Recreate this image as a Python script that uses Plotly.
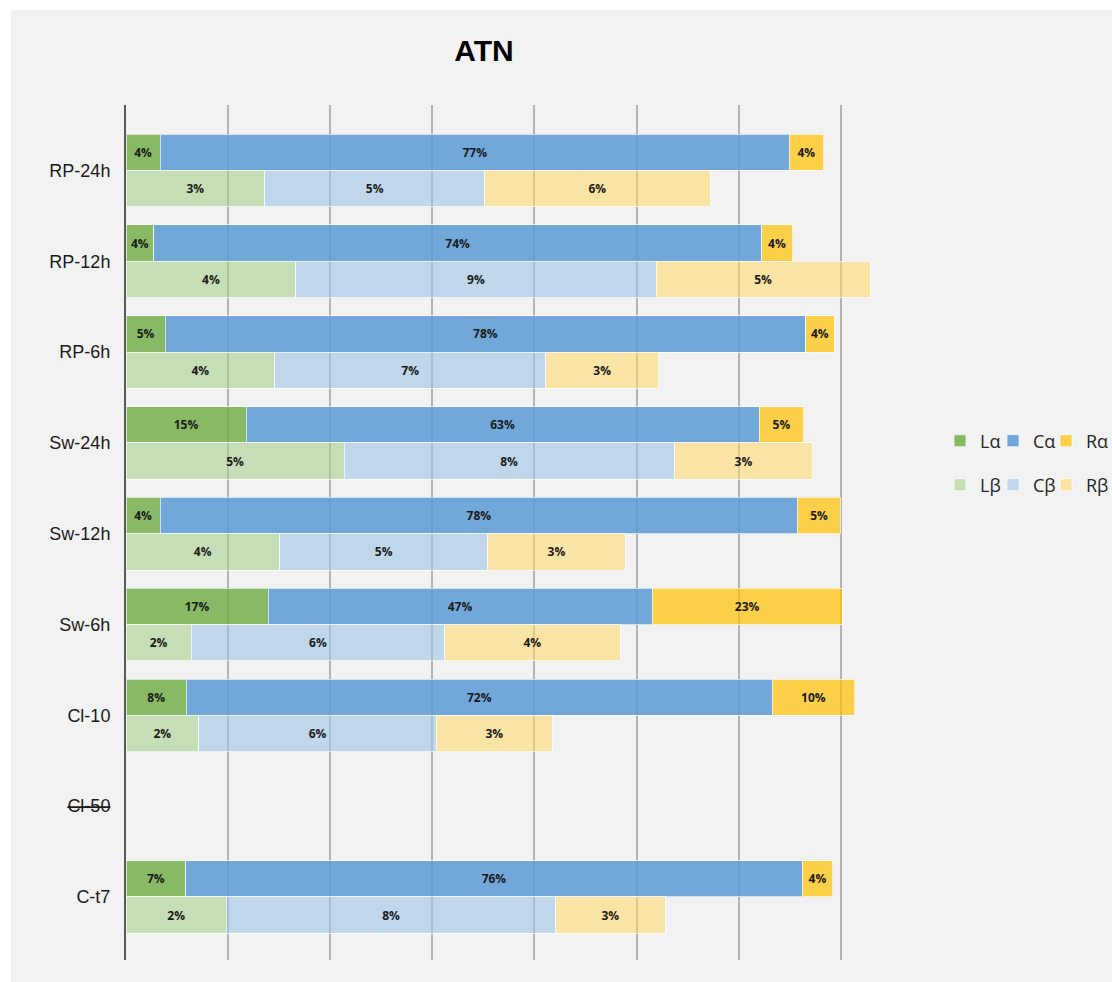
import plotly.graph_objects as go

# ---------------- data (top to bottom) ----------------
categories = ["RP-24h", "RP-12h", "RP-6h", "Sw-24h", "Sw-12h", "Sw-6h", "Cl-10", "Cl-50", "C-t7"]
tick_labels = ["RP-24h", "RP-12h", "RP-6h", "Sw-24h", "Sw-12h", "Sw-6h", "Cl-10", "<s>Cl-50</s>", "C-t7"]

# bar lengths (alpha row)
L_alpha = [4.2, 3.4, 4.8, 14.7, 4.2, 17.4, 7.4, None, 7.3]
C_alpha = [77.0, 74.4, 78.4, 62.8, 78.0, 47.0, 71.7, None, 75.5]
R_alpha = [4.2, 3.8, 3.5, 5.5, 5.3, 23.3, 10.1, None, 3.7]
# bar lengths (beta row)
L_beta = [17.0, 20.8, 18.2, 26.7, 18.8, 8.0, 8.9, None, 12.3]
C_beta = [26.9, 44.1, 33.2, 40.4, 25.5, 31.0, 29.1, None, 40.3]
R_beta = [27.6, 26.2, 13.8, 17.0, 16.8, 21.5, 14.2, None, 13.4]

# data labels shown in the bars
L_alpha_lbl = ["4%", "4%", "5%", "15%", "4%", "17%", "8%", "", "7%"]
C_alpha_lbl = ["77%", "74%", "78%", "63%", "78%", "47%", "72%", "", "76%"]
R_alpha_lbl = ["4%", "4%", "4%", "5%", "5%", "23%", "10%", "", "4%"]
L_beta_lbl = ["3%", "4%", "4%", "5%", "4%", "2%", "2%", "", "2%"]
C_beta_lbl = ["5%", "9%", "7%", "8%", "5%", "6%", "6%", "", "8%"]
R_beta_lbl = ["6%", "5%", "3%", "3%", "3%", "4%", "3%", "", "3%"]

series_names = ["Lα", "Cα", "Rα", "Lβ", "Cβ", "Rβ"]

# ---------------- styling ----------------
colors = {
    "Lα": "rgba(112,173,71,0.82)",
    "Cα": "rgba(91,155,213,0.85)",
    "Rα": "rgba(255,192,0,0.70)",
    "Lβ": "rgba(169,209,142,0.60)",
    "Cβ": "rgba(157,195,230,0.60)",
    "Rβ": "rgba(255,217,102,0.55)",
}

n = len(categories)
cat_pos = [n - 1 - i for i in range(n)]
alpha_pos = [p + 0.2 for p in cat_pos]
beta_pos = [p - 0.2 for p in cat_pos]

# pixel layout helpers
W, H = 1112, 982
ml, mr, mt, mb = 126, 210, 105, 22
pw = W - ml - mr
ph = H - mt - mb

def px_x(px):
    return (px - ml) / pw

def px_y(py):
    return (H - mb - py) / ph

fig = go.Figure()

rows = [
    ("Lα", L_alpha, L_alpha_lbl, alpha_pos),
    ("Cα", C_alpha, C_alpha_lbl, alpha_pos),
    ("Rα", R_alpha, R_alpha_lbl, alpha_pos),
    ("Lβ", L_beta, L_beta_lbl, beta_pos),
    ("Cβ", C_beta, C_beta_lbl, beta_pos),
    ("Rβ", R_beta, R_beta_lbl, beta_pos),
]

legend_font = dict(family="Open Sans", size=18, color="#262626")
legend_x_px = [940, 993, 1046]
legend_y_px = [441, 485]
legend_layouts = {}

for k, (name, vals, lbls, ypos) in enumerate(rows):
    leg_id = "legend" if k == 0 else f"legend{k + 1}"
    fig.add_trace(go.Bar(
        orientation="h",
        name=name,
        x=vals,
        y=ypos,
        width=0.4,
        text=lbls,
        textposition="inside",
        insidetextanchor="middle",
        constraintext="none",
        textangle=0,
        textfont=dict(family="Open Sans", size=12, color="#1a1a1a", weight="bold"),
        marker=dict(color=colors[name], line=dict(color="rgba(255,255,255,0.65)", width=1)),
        legend=leg_id,
        hoverinfo="name+x",
    ))
    legend_layouts[leg_id] = dict(
        orientation="v",
        x=px_x(legend_x_px[k % 3]), y=px_y(legend_y_px[k // 3]),
        xanchor="left", yanchor="middle", xref="paper", yref="paper",
        font=legend_font, bgcolor="rgba(0,0,0,0)",
    )

fig.update_layout(
    width=W, height=H,
    margin=dict(l=ml, r=mr, t=mt, b=mb, pad=0, autoexpand=False),
    barmode="stack",
    paper_bgcolor="white",
    plot_bgcolor="rgba(0,0,0,0)",
    title=dict(
        text="ATN",
        font=dict(family="Liberation Sans", size=30, color="#000000", weight="bold"),
        x=484 / W, xref="container", xanchor="center",
        y=1 - 50 / H, yref="container", yanchor="middle",
    ),
    xaxis=dict(
        range=[0, 95], tick0=0, dtick=12.5,
        showgrid=True, gridcolor="#b3b3b3", gridwidth=1.5,
        showticklabels=False, zeroline=False, showline=False, ticks="",
        fixedrange=True,
    ),
    yaxis=dict(
        range=[-0.694, 8.721],
        tickmode="array", tickvals=cat_pos, ticktext=tick_labels,
        tickfont=dict(family="Liberation Sans", size=18, color="#1a1a1a"),
        showgrid=False, zeroline=False,
        showline=True, linecolor="#595959", linewidth=2,
        ticks="", ticklabelstandoff=10,
        fixedrange=True,
    ),
    shapes=[dict(
        type="rect", xref="paper", yref="paper", layer="below",
        x0=px_x(11), x1=px_x(W + 5), y0=px_y(H + 5), y1=px_y(10),
        fillcolor="#f2f2f2", line=dict(width=0),
    )],
    showlegend=True,
    **legend_layouts,
)

fig.write_html("out.html")
